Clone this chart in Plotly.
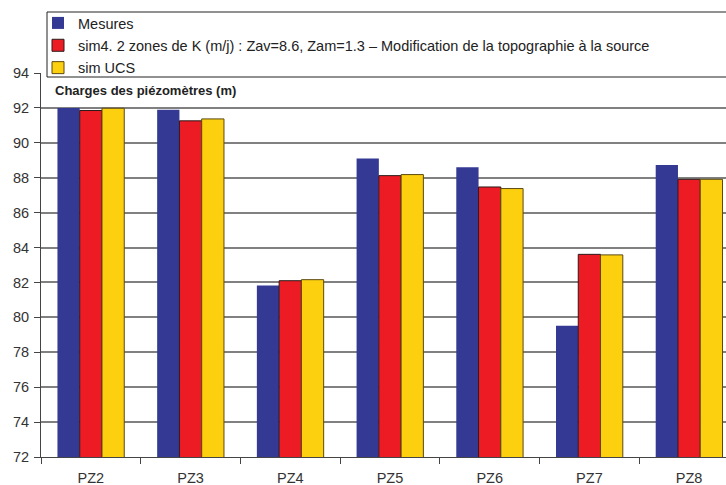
import plotly.graph_objects as go

# Piezometer heads (m)
piezometres = ["PZ2", "PZ3", "PZ4", "PZ5", "PZ6", "PZ7", "PZ8"]
mesures = [92.0, 91.9, 81.82, 89.1, 88.6, 79.52, 88.73]
sim4 = [91.85, 91.26, 82.1, 88.12, 87.47, 83.61, 87.91]
sim_ucs = [91.98, 91.37, 82.16, 88.18, 87.38, 83.58, 87.91]

noms = [
    "Mesures",
    "sim4. 2 zones de K (m/j) : Zav=8.6, Zam=1.3 \u2013 Modification de la topographie \u00e0 la source",
    "sim UCS",
]
couleurs = ["#343993", "#ED1C24", "#FCCF0F"]
contours = ["#343993", "#2a1a1a", "#5c4a10"]
largeurs = [0, 1, 1]

W, H = 726, 485
ML, MR, MT, MB = 41, 0, 73, 28
plot_w = W - ML - MR
plot_h = H - MT - MB


def px_x(x):
    return (x - ML) / plot_w


def px_y(y):
    return (H - MB - y) / plot_h


fig = go.Figure()
for i, vals in enumerate([mesures, sim4, sim_ucs]):
    fig.add_trace(go.Bar(
        x=piezometres,
        y=vals,
        name=noms[i],
        legendgroup=str(i),
        marker=dict(color=couleurs[i], line=dict(color=contours[i], width=largeurs[i])),
    ))

# legend frame (runs past the right edge like the original)
fig.add_shape(
    type="rect", xref="paper", yref="paper",
    x0=px_x(47), x1=1.05, y0=px_y(77), y1=px_y(12),
    fillcolor="white", line=dict(color="#222222", width=1), layer="above",
)

fig.add_annotation(
    text="<b>Charges des piézomètres (m)</b>",
    xref="paper", yref="paper", x=px_x(53), y=px_y(90),
    xanchor="left", yanchor="middle", showarrow=False,
    font=dict(size=13, color="#222222"),
)

fig.update_layout(
    width=W, height=H,
    margin=dict(l=ML, r=MR, t=MT, b=MB, pad=0),
    paper_bgcolor="white", plot_bgcolor="white",
    font=dict(family="Liberation Sans, Arial, sans-serif", color="#333333"),
    barmode="group", bargap=0.33, bargroupgap=0,
    legend=dict(
        x=px_x(38), y=px_y(7), xanchor="left", yanchor="top",
        bgcolor="rgba(0,0,0,0)", borderwidth=0,
        font=dict(size=14.5, color="#222222"),
        tracegroupgap=0.5, itemwidth=30,
    ),
    showlegend=True,
)

fig.update_xaxes(
    type="category", range=[-0.5, 6.37],
    showline=True, linecolor="#444444", linewidth=1,
    ticks="outside", tickson="boundaries", ticklen=6, tickcolor="#444444",
    tickfont=dict(size=14.5, color="#333333"), ticklabelstandoff=8,
    showgrid=False,
)
fig.update_yaxes(
    range=[72, 94], dtick=2,
    showline=True, linecolor="#444444", linewidth=1,
    ticks="outside", ticklen=6, tickcolor="#444444",
    tickfont=dict(size=14.5, color="#333333"), ticklabelstandoff=2,
    showgrid=True, gridcolor="#808080", gridwidth=1.5,
    zeroline=False,
)

# the page body has an 8px default margin; remove it so the figure sits at 0,0
fig.write_html(
    "out.html",
    config={"displayModeBar": False},
    post_script="document.body.style.margin='0';",
)
